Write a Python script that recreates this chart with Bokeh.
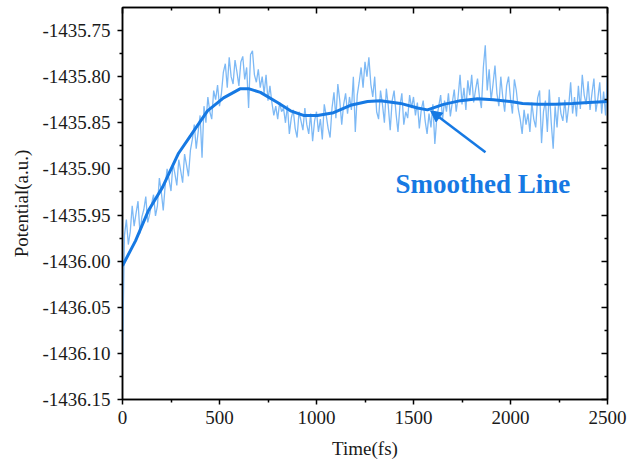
import numpy as np
from bokeh.plotting import figure
from bokeh.models import (Range1d, LinearAxis, FixedTicker, PrintfTickFormatter,
                          Label, Arrow, NormalHead)
from bokeh.embed import file_html
from bokeh.resources import INLINE

# ---------------- data ----------------
step_fs = 10
raw_potential = [
    -1436.105, -1435.972, -1435.955, -1435.982, -1435.968, -1435.940, -1435.962, -1435.948, -1435.935, -1435.970,
    -1435.952, -1435.944, -1435.930, -1435.958, -1435.949, -1435.938, -1435.928, -1435.951, -1435.940, -1435.910,
    -1435.925, -1435.945, -1435.918, -1435.900, -1435.912, -1435.924, -1435.894, -1435.905, -1435.918, -1435.890,
    -1435.902, -1435.915, -1435.884, -1435.896, -1435.908, -1435.880, -1435.868, -1435.852, -1435.878, -1435.860,
    -1435.842, -1435.888, -1435.832, -1435.850, -1435.822, -1435.838, -1435.846, -1435.815, -1435.825, -1435.809,
    -1435.832, -1435.818, -1435.795, -1435.786, -1435.812, -1435.779, -1435.800, -1435.808, -1435.782, -1435.795,
    -1435.810, -1435.784, -1435.778, -1435.803, -1435.790, -1435.834, -1435.776, -1435.772, -1435.798, -1435.806,
    -1435.792, -1435.812, -1435.800, -1435.818, -1435.798, -1435.826, -1435.810, -1435.828, -1435.842, -1435.832,
    -1435.846, -1435.828, -1435.838, -1435.834, -1435.850, -1435.831, -1435.862, -1435.845, -1435.836, -1435.856,
    -1435.866, -1435.838, -1435.848, -1435.858, -1435.834, -1435.852, -1435.862, -1435.840, -1435.870, -1435.848,
    -1435.838, -1435.860, -1435.846, -1435.868, -1435.830, -1435.842, -1435.856, -1435.866, -1435.834, -1435.817,
    -1435.845, -1435.808, -1435.826, -1435.852, -1435.830, -1435.818, -1435.840, -1435.822, -1435.836, -1435.800,
    -1435.860, -1435.820, -1435.806, -1435.790, -1435.812, -1435.784, -1435.800, -1435.779, -1435.808, -1435.822,
    -1435.800, -1435.838, -1435.846, -1435.815, -1435.830, -1435.850, -1435.813, -1435.832, -1435.858, -1435.826,
    -1435.815, -1435.840, -1435.860, -1435.832, -1435.818, -1435.852, -1435.838, -1435.845, -1435.820, -1435.834,
    -1435.822, -1435.842, -1435.828, -1435.856, -1435.836, -1435.826, -1435.848, -1435.862, -1435.840, -1435.855,
    -1435.830, -1435.873, -1435.845, -1435.832, -1435.820, -1435.846, -1435.826, -1435.838, -1435.818, -1435.843,
    -1435.828, -1435.814, -1435.838, -1435.822, -1435.798, -1435.830, -1435.812, -1435.836, -1435.804, -1435.820,
    -1435.798, -1435.828, -1435.814, -1435.802, -1435.822, -1435.834, -1435.790, -1435.766, -1435.815, -1435.792,
    -1435.826, -1435.808, -1435.788, -1435.818, -1435.832, -1435.800, -1435.822, -1435.838, -1435.810, -1435.800,
    -1435.824, -1435.840, -1435.803, -1435.815, -1435.835, -1435.846, -1435.862, -1435.836, -1435.852, -1435.840,
    -1435.860, -1435.828, -1435.846, -1435.855, -1435.823, -1435.815, -1435.872, -1435.838, -1435.826, -1435.860,
    -1435.814, -1435.850, -1435.878, -1435.832, -1435.855, -1435.822, -1435.840, -1435.848, -1435.825, -1435.850,
    -1435.832, -1435.806, -1435.840, -1435.822, -1435.843, -1435.810, -1435.835, -1435.798, -1435.820, -1435.830,
    -1435.805, -1435.836, -1435.818, -1435.802, -1435.838, -1435.824, -1435.806, -1435.840, -1435.816, -1435.842,
    -1435.798,
]
raw_time = list(np.arange(len(raw_potential)) * step_fs)

smooth_time = [0, 67, 134, 206, 289, 351, 438, 521, 608, 649, 711, 799, 866, 933, 1005, 1088,
               1175, 1263, 1330, 1433, 1521, 1572, 1655, 1742, 1830, 1912, 2000, 2062, 2144,
               2232, 2320, 2402, 2500]
smooth_potential = [-1436.005, -1435.978, -1435.945, -1435.920, -1435.883, -1435.864, -1435.837,
                    -1435.823, -1435.813, -1435.813, -1435.817, -1435.828, -1435.837, -1435.842,
                    -1435.842, -1435.839, -1435.831, -1435.827, -1435.826, -1435.829, -1435.834,
                    -1435.836, -1435.830, -1435.826, -1435.824, -1435.825, -1435.827, -1435.829,
                    -1435.830, -1435.830, -1435.829, -1435.828, -1435.827]

x_ticks = [0, 500, 1000, 1500, 2000, 2500]
x_minor = [250, 750, 1250, 1750, 2250]
y_ticks = [-1436.15, -1436.10, -1436.05, -1436.00, -1435.95, -1435.90, -1435.85, -1435.80, -1435.75]
y_minor = [-1436.125, -1436.075, -1436.025, -1435.975, -1435.925, -1435.875, -1435.825, -1435.775]

annotation_text = "Smoothed Line"
annotation_pos = (1407, -1435.916)
arrow_tail = (1871, -1435.882)
arrow_head = (1588, -1435.837)

# ---------------- styles ----------------
FONT = "Liberation Serif"
LIGHT = "#7db9f5"
DARK = "#1679e3"

p = figure(width=627, height=470, output_backend="svg", toolbar_location=None,
           x_range=Range1d(0, 2500), y_range=Range1d(-1436.15, -1435.725),
           min_border_left=122, min_border_right=20, min_border_top=7, min_border_bottom=71)
p.background_fill_color = "white"
p.border_fill_color = "white"
p.grid.visible = False
p.outline_line_color = "black"
p.outline_line_width = 1.5

p.line(raw_time, raw_potential, line_color=LIGHT, line_width=1.3)
p.line(smooth_time, smooth_potential, line_color=DARK, line_width=3)

xt = FixedTicker(ticks=x_ticks, minor_ticks=x_minor)
yt = FixedTicker(ticks=y_ticks, minor_ticks=y_minor)

def style_main(ax):
    ax.axis_line_color = "black"
    ax.axis_line_width = 1.5
    ax.major_tick_line_color = "black"
    ax.minor_tick_line_color = "black"
    ax.major_tick_line_width = 1.5
    ax.minor_tick_line_width = 1.5
    ax.major_tick_in = 0
    ax.major_tick_out = 5
    ax.minor_tick_in = 0
    ax.minor_tick_out = 3
    ax.major_label_text_font = FONT
    ax.major_label_text_font_size = "19px"
    ax.major_label_text_color = "#1a1a1a"
    ax.axis_label_text_font = FONT
    ax.axis_label_text_font_size = "19px"
    ax.axis_label_text_font_style = "normal"
    ax.axis_label_text_color = "#1a1a1a"

xa = p.xaxis[0]
xa.ticker = xt
xa.axis_label = "Time(fs)"
style_main(xa)
xa.major_label_standoff = 6
xa.axis_label_standoff = 11

ya = p.yaxis[0]
ya.ticker = yt
ya.formatter = PrintfTickFormatter(format="%.2f")
ya.axis_label = "Potential(a.u.)"
style_main(ya)
ya.major_label_standoff = 7
ya.axis_label_standoff = 7

def mirror(ticker):
    ax = LinearAxis(ticker=ticker)
    ax.axis_line_color = "black"
    ax.axis_line_width = 1.5
    ax.major_tick_line_color = "black"
    ax.minor_tick_line_color = "black"
    ax.major_tick_line_width = 1.5
    ax.minor_tick_line_width = 1.5
    ax.major_tick_in = 6
    ax.major_tick_out = 0
    ax.minor_tick_in = 3
    ax.minor_tick_out = 0
    ax.major_label_text_font_size = "1px"
    ax.major_label_text_color = None
    ax.major_label_standoff = 0
    ax.axis_label = None
    return ax

p.add_layout(mirror(yt), "right")
p.add_layout(mirror(xt), "above")

p.add_layout(Arrow(end=NormalHead(size=11, fill_color=DARK, line_color=DARK),
                   x_start=arrow_tail[0], y_start=arrow_tail[1],
                   x_end=arrow_head[0], y_end=arrow_head[1],
                   line_color=DARK, line_width=2.5))
p.add_layout(Label(x=annotation_pos[0], y=annotation_pos[1], text=annotation_text,
                   text_font=FONT, text_font_size="27px", text_font_style="bold",
                   text_color=DARK, text_baseline="alphabetic"))

open("out.html", "w").write(file_html(p, INLINE))
